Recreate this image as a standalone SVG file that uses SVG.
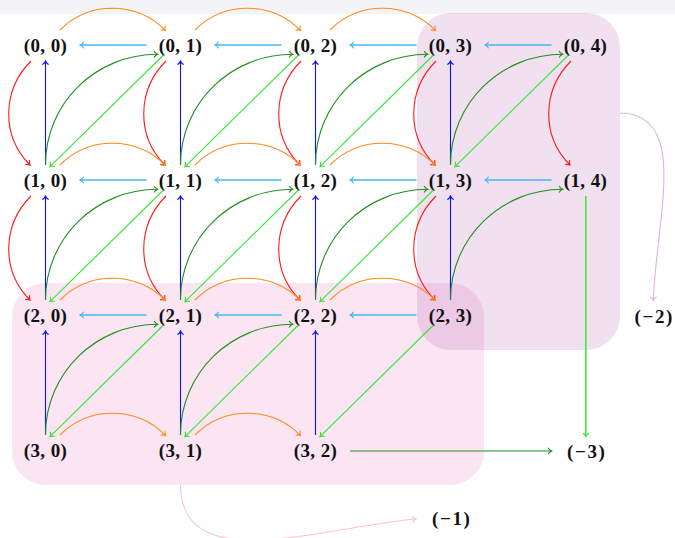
<svg xmlns="http://www.w3.org/2000/svg" width="675" height="538" viewBox="0 0 675 538">
<style>
.n text{font-family:"Liberation Serif","Times New Roman",serif;font-weight:bold;font-size:19px;letter-spacing:0.4px;fill:#111;text-anchor:middle}
.n text.neg{letter-spacing:1.6px}
.e path{fill:none;stroke-width:1.1}
.cy{stroke:#45b9ec;stroke-width:1.7!important;marker-end:url(#mcy)}
.bl{stroke:#1010ff;marker-end:url(#mbl)}
.rd{stroke:#ff1a1a;marker-end:url(#mrd)}
.or{stroke:#ff8a1c;marker-end:url(#mor)}
.dg{stroke:#1e901e;marker-end:url(#mdg)}
.lg{stroke:#35e635;marker-end:url(#mlg)}
.lv{stroke:#dbb6dc;marker-end:url(#mlv)}
.pk{stroke:#f6c3d6;marker-end:url(#mpk)}
</style>
<defs>
<marker id="mcy" viewBox="-5 -4 6 8" refX="0" refY="0" markerWidth="6" markerHeight="8" markerUnits="userSpaceOnUse" orient="auto"><path d="M-3.6,-3.2 C-2.6,-1.2 -0.8,-0.3 0,0 C-0.8,0.3 -2.6,1.2 -3.6,3.2" fill="none" stroke="#45b9ec" stroke-width="1.1"/></marker>
<marker id="mbl" viewBox="-5 -4 6 8" refX="0" refY="0" markerWidth="6" markerHeight="8" markerUnits="userSpaceOnUse" orient="auto"><path d="M-3.6,-3.2 C-2.6,-1.2 -0.8,-0.3 0,0 C-0.8,0.3 -2.6,1.2 -3.6,3.2" fill="none" stroke="#1010ff" stroke-width="1.1"/></marker>
<marker id="mrd" viewBox="-5 -4 6 8" refX="0" refY="0" markerWidth="6" markerHeight="8" markerUnits="userSpaceOnUse" orient="auto"><path d="M-3.6,-3.2 C-2.6,-1.2 -0.8,-0.3 0,0 C-0.8,0.3 -2.6,1.2 -3.6,3.2" fill="none" stroke="#ff1a1a" stroke-width="1.1"/></marker>
<marker id="mor" viewBox="-5 -4 6 8" refX="0" refY="0" markerWidth="6" markerHeight="8" markerUnits="userSpaceOnUse" orient="auto"><path d="M-3.6,-3.2 C-2.6,-1.2 -0.8,-0.3 0,0 C-0.8,0.3 -2.6,1.2 -3.6,3.2" fill="none" stroke="#ff8a1c" stroke-width="1.1"/></marker>
<marker id="mdg" viewBox="-5 -4 6 8" refX="0" refY="0" markerWidth="6" markerHeight="8" markerUnits="userSpaceOnUse" orient="auto"><path d="M-3.6,-3.2 C-2.6,-1.2 -0.8,-0.3 0,0 C-0.8,0.3 -2.6,1.2 -3.6,3.2" fill="none" stroke="#1e901e" stroke-width="1.1"/></marker>
<marker id="mlg" viewBox="-5 -4 6 8" refX="0" refY="0" markerWidth="6" markerHeight="8" markerUnits="userSpaceOnUse" orient="auto"><path d="M-3.6,-3.2 C-2.6,-1.2 -0.8,-0.3 0,0 C-0.8,0.3 -2.6,1.2 -3.6,3.2" fill="none" stroke="#35e635" stroke-width="1.1"/></marker>
<marker id="mlv" viewBox="-5 -4 6 8" refX="0" refY="0" markerWidth="6" markerHeight="8" markerUnits="userSpaceOnUse" orient="auto"><path d="M-3.6,-3.2 C-2.6,-1.2 -0.8,-0.3 0,0 C-0.8,0.3 -2.6,1.2 -3.6,3.2" fill="none" stroke="#dbb6dc" stroke-width="1.1"/></marker>
<marker id="mpk" viewBox="-5 -4 6 8" refX="0" refY="0" markerWidth="6" markerHeight="8" markerUnits="userSpaceOnUse" orient="auto"><path d="M-3.6,-3.2 C-2.6,-1.2 -0.8,-0.3 0,0 C-0.8,0.3 -2.6,1.2 -3.6,3.2" fill="none" stroke="#f6c3d6" stroke-width="1.1"/></marker>
</defs>
<rect x="0" y="0" width="675" height="538" fill="#ffffff"/>
<rect x="0" y="0" width="675" height="14" fill="#f4f4f6"/>
<g id="boxes">
<rect id="box-pink" x="12" y="283" width="472" height="202" rx="34" fill="#dc2896" fill-opacity="0.12"/>
<rect id="box-purple" x="417" y="13" width="203" height="337" rx="34" fill="#800080" fill-opacity="0.12"/>
</g>
<g id="connectors" class="e">
<path class="cy" d="M146.5,45 L80,45"/><path class="cy" d="M281.5,45 L215,45"/><path class="cy" d="M416.5,45 L350,45"/><path class="cy" d="M551.5,45 L485,45"/>
<path class="cy" d="M146.5,180 L80,180"/><path class="cy" d="M281.5,180 L215,180"/><path class="cy" d="M416.5,180 L350,180"/><path class="cy" d="M551.5,180 L485,180"/>
<path class="cy" d="M146.5,315 L80,315"/><path class="cy" d="M281.5,315 L215,315"/><path class="cy" d="M416.5,315 L350,315"/>
<path class="bl" d="M45.5,165 L45.5,61"/><path class="bl" d="M45.5,300 L45.5,196"/><path class="bl" d="M45.5,435 L45.5,331"/>
<path class="bl" d="M180.5,165 L180.5,61"/><path class="bl" d="M180.5,300 L180.5,196"/><path class="bl" d="M180.5,435 L180.5,331"/>
<path class="bl" d="M315.5,165 L315.5,61"/><path class="bl" d="M315.5,300 L315.5,196"/><path class="bl" d="M315.5,435 L315.5,331"/>
<path class="bl" d="M450.5,165 L450.5,61"/><path class="bl" d="M450.5,300 L450.5,196"/>
<path class="rd" d="M31,61 C2,90 1,136 30,165"/><path class="rd" d="M31,196 C2,225 1,271 30,300"/>
<path class="rd" d="M166,61 C137,90 136,136 165,165"/><path class="rd" d="M166,196 C137,225 136,271 165,300"/>
<path class="rd" d="M301,61 C272,90 271,136 300,165"/><path class="rd" d="M301,196 C272,225 271,271 300,300"/>
<path class="rd" d="M436,61 C407,90 406,136 435,165"/><path class="rd" d="M436,196 C407,225 406,271 435,300"/>
<path class="rd" d="M571,61 C542,90 541,136 570,165"/>
<path class="or" d="M60,30 C89,1 136.5,1 165.5,30.5"/><path class="or" d="M195,30 C224,1 271.5,1 300.5,30.5"/><path class="or" d="M330,30 C359,1 406.5,1 435.5,30.5"/>
<path class="or" d="M60,165 C89,136 136.5,136 165.5,165.5"/><path class="or" d="M195,165 C224,136 271.5,136 300.5,165.5"/><path class="or" d="M330,165 C359,136 406.5,136 435.5,165.5"/>
<path class="or" d="M60,300 C89,271 136.5,271 165.5,300.5"/><path class="or" d="M195,300 C224,271 271.5,271 300.5,300.5"/><path class="or" d="M330,300 C359,271 406.5,271 435.5,300.5"/>
<path class="or" d="M60,435 C89,406 136.5,406 165.5,435.5"/><path class="or" d="M195,435 C224,406 271.5,406 300.5,435.5"/>
<path class="dg" d="M45.5,165 C45.5,103 95.7,54.3 157.7,54.3"/><path class="dg" d="M180.5,165 C180.5,103 230.7,54.3 292.7,54.3"/><path class="dg" d="M315.5,165 C315.5,103 365.7,54.3 427.7,54.3"/><path class="dg" d="M450.5,165 C450.5,103 500.7,54.3 562.7,54.3"/>
<path class="dg" d="M45.5,300 C45.5,238 95.7,189.3 157.7,189.3"/><path class="dg" d="M180.5,300 C180.5,238 230.7,189.3 292.7,189.3"/><path class="dg" d="M315.5,300 C315.5,238 365.7,189.3 427.7,189.3"/><path class="dg" d="M450.5,300 C450.5,238 500.7,189.3 562.7,189.3"/>
<path class="dg" d="M45.5,435 C45.5,373 95.7,324.3 157.7,324.3"/><path class="dg" d="M180.5,435 C180.5,373 230.7,324.3 292.7,324.3"/>
<path class="lg" d="M163.5,55 L50,166.7"/><path class="lg" d="M298.5,55 L185,166.7"/><path class="lg" d="M433.5,55 L320,166.7"/><path class="lg" d="M568.5,55 L455,166.7"/>
<path class="lg" d="M163.5,190 L50,301.7"/><path class="lg" d="M298.5,190 L185,301.7"/><path class="lg" d="M433.5,190 L320,301.7"/>
<path class="lg" d="M163.5,325 L50,436.7"/><path class="lg" d="M298.5,325 L185,436.7"/><path class="lg" d="M433.5,325 L320,436.7"/>
<path class="lg" d="M585.8,196 L585.8,436.5" style="stroke-width:1.5"/>
<path class="dg" d="M350,451 L551.7,451"/>
<path class="lv" d="M620,113 C690,113 656,220 653.3,300.5"/>
<path class="pk" d="M180.5,485 C180.5,578 323,527 416,519"/>
</g>
<g id="nodes" class="n">
<g id="n00"><text x="45.5" y="51.5">(0, 0)</text></g>
<g id="n01"><text x="180.5" y="51.5">(0, 1)</text></g>
<g id="n02"><text x="315.5" y="51.5">(0, 2)</text></g>
<g id="n03"><text x="450.5" y="51.5">(0, 3)</text></g>
<g id="n04"><text x="585.5" y="51.5">(0, 4)</text></g>
<g id="n10"><text x="45.5" y="186.5">(1, 0)</text></g>
<g id="n11"><text x="180.5" y="186.5">(1, 1)</text></g>
<g id="n12"><text x="315.5" y="186.5">(1, 2)</text></g>
<g id="n13"><text x="450.5" y="186.5">(1, 3)</text></g>
<g id="n14"><text x="585.5" y="186.5">(1, 4)</text></g>
<g id="n20"><text x="45.5" y="321.5">(2, 0)</text></g>
<g id="n21"><text x="180.5" y="321.5">(2, 1)</text></g>
<g id="n22"><text x="315.5" y="321.5">(2, 2)</text></g>
<g id="n23"><text x="450.5" y="321.5">(2, 3)</text></g>
<g id="n30"><text x="45.5" y="456.5">(3, 0)</text></g>
<g id="n31"><text x="180.5" y="456.5">(3, 1)</text></g>
<g id="n32"><text x="315.5" y="456.5">(3, 2)</text></g>
<g id="nm2"><text class="neg" x="654.3" y="322.5">(−2)</text></g>
<g id="nm3"><text class="neg" x="586.8" y="457.5">(−3)</text></g>
<g id="nm1"><text class="neg" x="451.8" y="524.5">(−1)</text></g>
</g>
</svg>
